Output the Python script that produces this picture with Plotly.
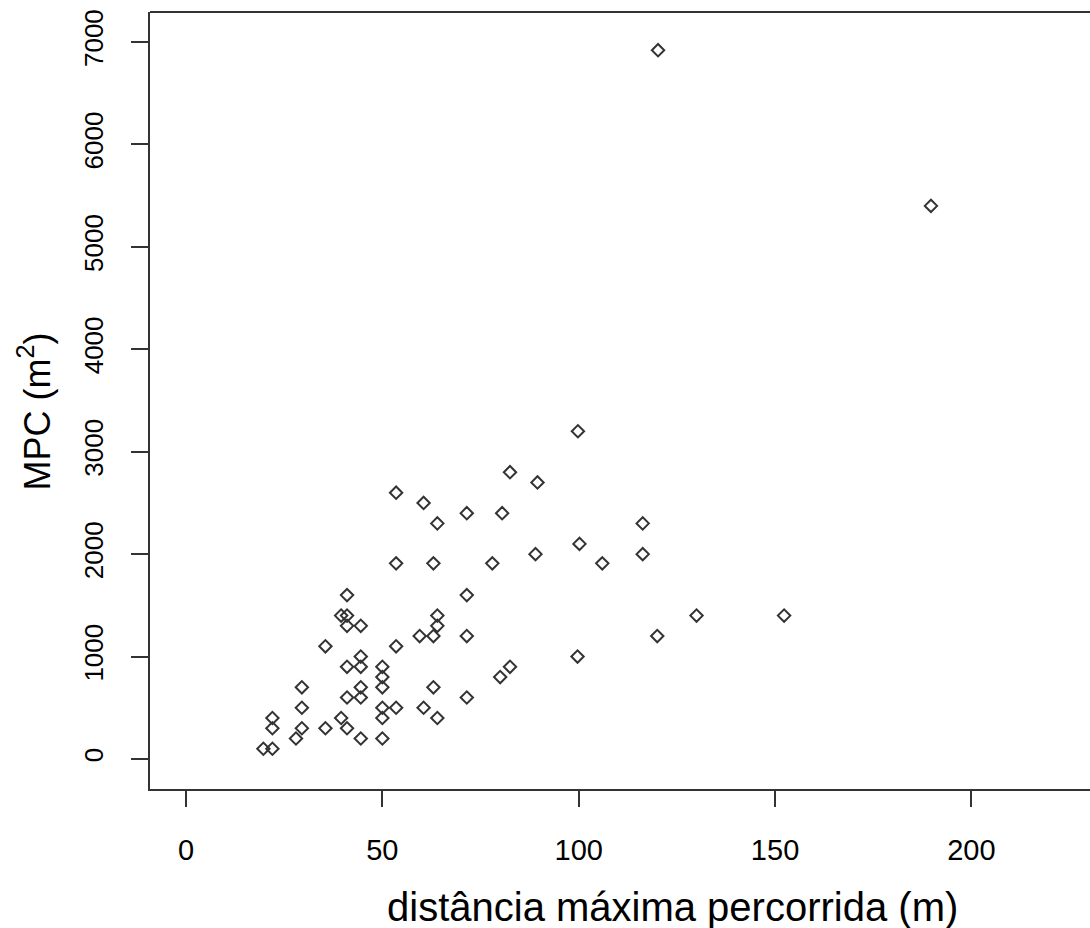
import plotly.graph_objects as go

# distância máxima percorrida (m)
dist = [19.7, 22, 28, 44.5, 50, 22, 29.5, 35.5, 41, 22, 39.5, 50, 64,
        29.5, 50, 53.5, 60.5, 41, 44.5, 71.5, 29.5, 44.5, 50, 63, 50, 80,
        41, 44.5, 50, 82.5, 44.5, 99.7, 35.5, 53.5, 59.5, 63, 71.5, 120,
        41, 44.5, 64, 39.5, 41, 64, 130, 152.3, 41, 71.5, 53.5, 63, 78,
        106, 89, 116.3, 100.2, 64, 116.3, 71.5, 80.5, 60.5, 53.5, 89.5,
        82.5, 99.8, 120.2, 189.7]
# MPC (m2)
mpc = [100, 100, 200, 200, 200, 300, 300, 300, 300, 400, 400, 400, 400,
       500, 500, 500, 500, 600, 600, 600, 700, 700, 700, 700, 800, 800,
       900, 900, 900, 900, 1000, 1000, 1100, 1100, 1200, 1200, 1200, 1200,
       1300, 1300, 1300, 1400, 1400, 1400, 1400, 1400, 1600, 1600, 1910, 1910, 1910,
       1910, 2000, 2000, 2100, 2300, 2300, 2400, 2400, 2500, 2600, 2700,
       2800, 3200, 6920, 5400]

x_ticks = [0, 50, 100, 150, 200]
y_ticks = [0, 1000, 2000, 3000, 4000, 5000, 6000, 7000]

FONT = "Liberation Sans, Arial, sans-serif"
LC = "#333333"

fig = go.Figure()
fig.add_trace(go.Scatter(
    x=dist, y=mpc, mode="markers",
    marker=dict(symbol="diamond-open", size=9.5, color=LC, line=dict(width=2, color=LC)),
    showlegend=False, hoverinfo="x+y",
))

fig.update_layout(
    width=1090, height=928,
    margin=dict(l=150, r=0, t=12, b=139),
    paper_bgcolor="white", plot_bgcolor="white",
    font=dict(family=FONT, color="black"),
    xaxis=dict(range=[-9.17, 230.2], tickvals=x_ticks, ticktext=[str(v) for v in x_ticks],
               showgrid=False, zeroline=False, showline=True, linewidth=2, linecolor=LC,
               ticks="outside", ticklen=16, tickwidth=2, tickcolor=LC,
               tickfont=dict(size=29, family=FONT, color="black"), ticklabelstandoff=18),
    yaxis=dict(range=[-293, 7293], tickvals=y_ticks, ticktext=[str(v) for v in y_ticks],
               showgrid=False, zeroline=False, showline=True, linewidth=2, linecolor=LC,
               ticks="outside", ticklen=17, tickwidth=2, tickcolor=LC, tickangle=-90,
               tickfont=dict(size=26, family=FONT, color="black"), ticklabelstandoff=18),
    shapes=[dict(type="line", xref="paper", yref="paper", x0=0, x1=1, y0=1, y1=1,
                 line=dict(color=LC, width=2))],
    annotations=[
        dict(text="distância máxima percorrida (m)", xref="paper", yref="paper",
             x=0.5559, y=-0.1519, xanchor="center", yanchor="middle", showarrow=False,
             font=dict(size=40, family=FONT, color="black")),
        dict(text="MPC (m<sup>2</sup>)", xref="paper", yref="paper",
             x=-0.1234, y=0.4858, xanchor="center", yanchor="middle", showarrow=False,
             textangle=-90, font=dict(size=36, family=FONT, color="black")),
    ],
)

fig.write_html("out.html")
